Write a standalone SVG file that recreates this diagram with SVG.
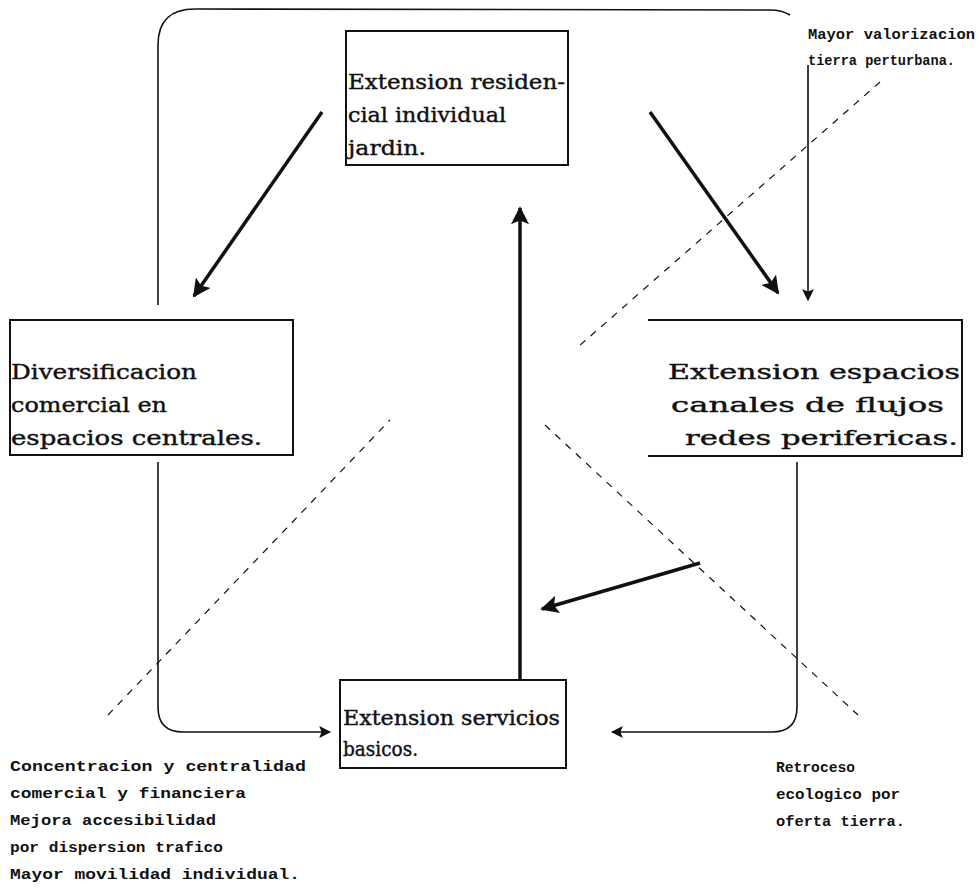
<svg xmlns="http://www.w3.org/2000/svg" width="979" height="891" viewBox="0 0 979 891">
<style>
.box{fill:#fff;stroke:#111;stroke-width:2}
.bt{font-family:"DejaVu Serif","Liberation Serif",serif;font-size:20px;fill:#111;stroke:#111;stroke-width:0.4}
.lb{font-family:"Liberation Mono","DejaVu Sans Mono",monospace;font-weight:bold;font-size:14px;fill:#111}
.thin{fill:none;stroke:#111;stroke-width:1.6}
.thick{fill:none;stroke:#111;stroke-width:3.5}
.dash{fill:none;stroke:#111;stroke-width:1.2;stroke-dasharray:7 7}
</style>
<defs>
<marker id="ah" viewBox="0 0 10 10" refX="9" refY="5" markerWidth="12" markerHeight="12" markerUnits="userSpaceOnUse" orient="auto">
<path d="M0,0 L10,5 L0,10 L2,5 Z" fill="#111"/>
</marker>
<marker id="ahb" viewBox="0 0 10 10" refX="9" refY="5" markerWidth="18" markerHeight="18" markerUnits="userSpaceOnUse" orient="auto">
<path d="M0,0 L10,5 L0,10 L2,5 Z" fill="#111"/>
</marker>
</defs>
<rect width="979" height="891" fill="#fff"/>
<g id="connectors">
<path class="thin" d="M158,305 L158,45 Q158,9 195,9 L770,10 Q782,10 790,15"/>
<path class="thin" d="M808,65 L808,300" marker-end="url(#ah)"/>
<path class="thick" d="M322,112 L194,296" marker-end="url(#ahb)"/>
<path class="thick" d="M650,112 L778,293" marker-end="url(#ahb)"/>
<path class="thick" d="M520,695 L520,208" marker-end="url(#ahb)"/>
<path class="thick" d="M700,563 L542,609" marker-end="url(#ahb)"/>
<path class="thin" d="M158,462 L158,707 Q158,732 183,732 L330,732" marker-end="url(#ah)"/>
<path class="thin" d="M797,462 L797,707 Q797,732 772,732 L612,732" marker-end="url(#ah)"/>
<path class="dash" d="M880,82 L578,347"/>
<path class="dash" d="M108,715 L390,420"/>
<path class="dash" d="M545,425 L858,715"/>
</g>
<g id="n-residencial">
<rect class="box" x="346" y="31" width="222" height="134"/>
<text class="bt" x="348" y="89" textLength="217" lengthAdjust="spacingAndGlyphs">Extension residen-</text>
<text class="bt" x="348" y="122" textLength="158" lengthAdjust="spacingAndGlyphs">cial individual</text>
<text class="bt" x="348" y="155" textLength="78" lengthAdjust="spacingAndGlyphs">jardin.</text>
</g>
<g id="n-diversificacion">
<rect class="box" x="10" y="320" width="283" height="135"/>
<text class="bt" x="11" y="379" textLength="186" lengthAdjust="spacingAndGlyphs">Diversificacion</text>
<text class="bt" x="11" y="412" textLength="156" lengthAdjust="spacingAndGlyphs">comercial en</text>
<text class="bt" x="11" y="445" textLength="251" lengthAdjust="spacingAndGlyphs">espacios centrales.</text>
</g>
<g id="n-espacios">
<path class="box" d="M648,320 L962,320 L962,456 L648,456"/>
<text class="bt" x="668" y="379" textLength="292" lengthAdjust="spacingAndGlyphs">Extension espacios</text>
<text class="bt" x="671" y="412" textLength="273" lengthAdjust="spacingAndGlyphs">canales de flujos</text>
<text class="bt" x="685" y="445" textLength="273" lengthAdjust="spacingAndGlyphs">redes perifericas.</text>
</g>
<g id="n-servicios">
<rect class="box" x="340" y="680" width="226" height="88"/>
<text class="bt" x="343" y="725" textLength="217" lengthAdjust="spacingAndGlyphs">Extension servicios</text>
<text class="bt" x="343" y="756" textLength="75" lengthAdjust="spacingAndGlyphs">basicos.</text>
</g>
<g id="labels">
<text class="lb" x="808" y="39" textLength="167" lengthAdjust="spacingAndGlyphs">Mayor valorizacion</text>
<text class="lb" x="808" y="65" textLength="147" lengthAdjust="spacingAndGlyphs">tierra perturbana.</text>
<text class="lb" x="10" y="771" textLength="296" lengthAdjust="spacingAndGlyphs">Concentracion y centralidad</text>
<text class="lb" x="10" y="798" textLength="236" lengthAdjust="spacingAndGlyphs">comercial y financiera</text>
<text class="lb" x="10" y="825" textLength="206" lengthAdjust="spacingAndGlyphs">Mejora accesibilidad</text>
<text class="lb" x="10" y="852" textLength="213" lengthAdjust="spacingAndGlyphs">por dispersion trafico</text>
<text class="lb" x="10" y="879" textLength="290" lengthAdjust="spacingAndGlyphs">Mayor movilidad individual.</text>
<text class="lb" x="776" y="772" textLength="79" lengthAdjust="spacingAndGlyphs">Retroceso</text>
<text class="lb" x="776" y="799" textLength="124" lengthAdjust="spacingAndGlyphs">ecologico por</text>
<text class="lb" x="776" y="826" textLength="129" lengthAdjust="spacingAndGlyphs">oferta tierra.</text>
</g>
</svg>
